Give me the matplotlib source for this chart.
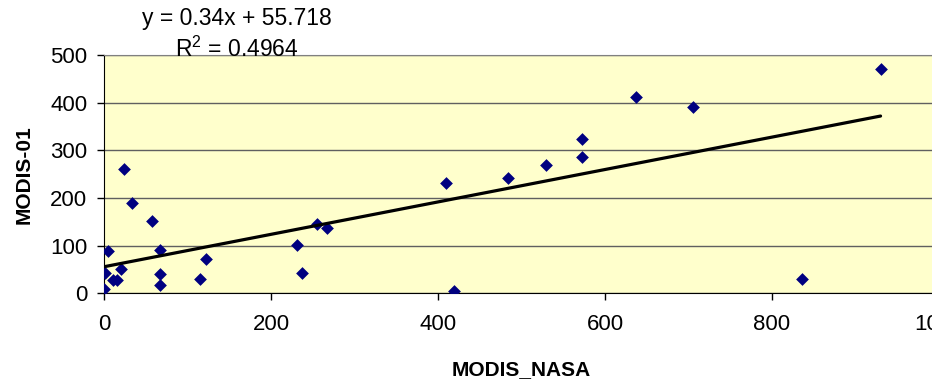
import matplotlib
matplotlib.use('Agg')
import matplotlib.pyplot as plt
import numpy as np

plt.rcParams['font.family'] = ['Liberation Sans', 'DejaVu Sans']
plt.rcParams['mathtext.fontset'] = 'custom'
plt.rcParams['mathtext.rm'] = 'Liberation Sans'
plt.rcParams['mathtext.it'] = 'Liberation Sans'

# valores
modis_nasa = [0, 1, 5, 11, 16, 20, 24, 34, 57, 67, 67, 67, 115, 122,
              231, 237, 255, 267, 410, 419, 484, 529, 573, 573, 637, 705, 836, 930]
modis_01 = [8, 43, 89, 27, 27, 52, 261, 190, 152, 91, 40, 17, 31, 73,
            101, 43, 145, 138, 232, 5, 241, 269, 324, 287, 412, 391, 31, 470]

slope = 0.34
intercept = 55.718
r2 = 0.4964

x_ticks = [0, 200, 400, 600, 800, 1000]
y_ticks = [0, 100, 200, 300, 400, 500]

fig = plt.figure(figsize=(9.32, 3.83), dpi=100)
ax = fig.add_axes([104 / 932, 0.2342, 835 / 932, 0.6222])
ax.set_facecolor('#FFFFCC')

ax.scatter(modis_nasa, modis_01, marker='D', s=6.5 ** 2, color='#000080',
           zorder=3, linewidths=0)

x_fit = np.array([min(modis_nasa), max(modis_nasa)])
ax.plot(x_fit, slope * x_fit + intercept, color='black', lw=2.3, zorder=4,
        solid_capstyle='round')

ax.set_xlim(0, 1000)
ax.set_ylim(0, 500)
ax.set_xticks(x_ticks)
ax.set_yticks(y_ticks)
ax.tick_params(axis='both', direction='out', length=5, width=1,
               labelsize=16, color='black')
ax.tick_params(axis='x', pad=10)
ax.tick_params(axis='y', pad=7)
ax.yaxis.grid(True, color='#606060', lw=1.0)
ax.set_axisbelow(True)

ax.spines['top'].set_color('#808080')
ax.spines['right'].set_visible(False)
ax.spines['left'].set_color('black')
ax.spines['bottom'].set_color('black')

ax.set_xlabel('MODIS_NASA', fontsize=15, fontweight='bold', labelpad=18)
ax.set_ylabel('MODIS-01', fontsize=15, fontweight='bold', labelpad=12)

fig.text(237 / 932, 1 - 18 / 383, f'y = {slope}x + {intercept}', fontsize=16.5,
         ha='center', va='center')
fig.text(237 / 932, 1 - 49 / 383, f'R$^2$ = {r2}', fontsize=16.5,
         ha='center', va='center')

fig.savefig('out.png', dpi=100)
plt.close()
